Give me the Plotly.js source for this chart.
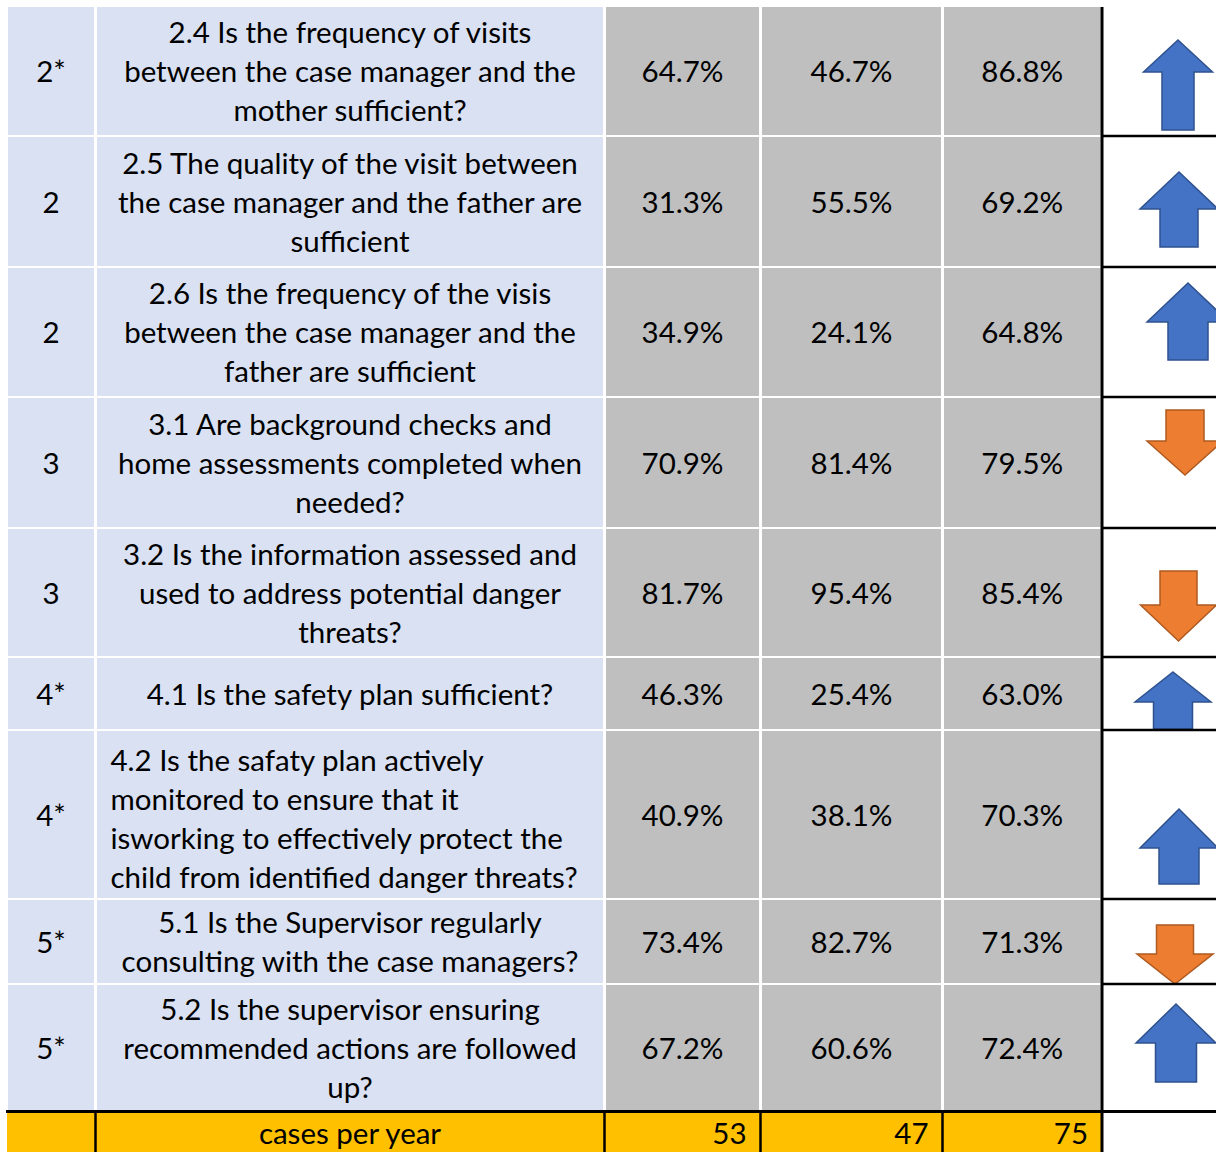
<!DOCTYPE html>
<html>
<head>
<meta charset="utf-8">
<script src="https://cdn.plot.ly/plotly-3.0.1.min.js"></script>
<style>
body{margin:0;background:#fff}
#chart{width:1216px;height:1152px}
</style>
</head>
<body>
<div id="chart"></div>
<script>
///// table data
var areas = ['2*', '2', '2', '3', '3', '4*', '4*', '5*', '5*'];
var questions = [
  ['2.4 Is the frequency of visits', 'between the case manager and the', 'mother sufficient?'],
  ['2.5 The quality of the visit between', 'the case manager and the father are', 'sufficient'],
  ['2.6 Is the frequency of the visis', 'between the case manager and the', 'father are sufficient'],
  ['3.1 Are background checks and', 'home assessments completed when', 'needed?'],
  ['3.2 Is the information assessed and', 'used to address potential danger', 'threats?'],
  ['4.1 Is the safety plan sufficient?'],
  ['4.2 Is the safaty plan actively', 'monitored to ensure that it', 'isworking to effectively protect the', 'child from identified danger threats?'],
  ['5.1 Is the Supervisor regularly', 'consulting with the case managers?'],
  ['5.2 Is the supervisor ensuring', 'recommended actions are followed', 'up?']
];
var pctYear1 = [64.7, 31.3, 34.9, 70.9, 81.7, 46.3, 40.9, 73.4, 67.2];
var pctYear2 = [46.7, 55.5, 24.1, 81.4, 95.4, 25.4, 38.1, 82.7, 60.6];
var pctYear3 = [86.8, 69.2, 64.8, 79.5, 85.4, 63.0, 70.3, 71.3, 72.4];
var casesLabel = 'cases per year';
var casesPerYear = [53, 47, 75];

///// grid layout (pixels)
var W = 1216, H = 1152;
var colEdges = [6.5, 95.5, 604.5, 760.5, 942.5, 1102];
var rowEdges = [6, 136, 267, 397, 528, 657, 730, 899, 984, 1111.5];
var lineGap = 39;
var textShift = 4;
var qAlign = ['center', 'center', 'center', 'center', 'center', 'center', 'left', 'center', 'center'];
var qShift = [0, 0, 0, 0, 0, 0, 4, 0, 0];
// arrows: centre x, start y, head y, end y, head half width, shaft half width
var arrowPos = [
  [1178, 40, 72, 130, 34.5, 16],
  [1179, 172, 209, 247, 39, 19],
  [1188, 283, 322, 360, 41, 20],
  [1185, 410, 441, 475, 38, 19],
  [1178.5, 571, 605, 641, 38, 18.5],
  [1173, 672, 702, 729, 38, 19.5],
  [1179, 809, 848, 884, 39, 20],
  [1175, 925, 954, 984, 38, 18.5],
  [1176, 1004, 1043, 1082, 40, 20.5]
];

var BLUE_CELL = '#D9E1F2', GRAY_CELL = '#BFBFBF', YELLOW = '#FFC000';
var FONT = {family: 'Lato, "Open Sans", sans-serif', size: 29.5, color: '#000'};

var shapes = [];
var traces = [];

function rect(x0, y0, x1, y1, fill){
  shapes.push({type: 'rect', xref: 'x', yref: 'y', x0: x0, y0: y0, x1: x1, y1: y1,
    fillcolor: fill, line: {width: 0}, layer: 'below'});
}
function line(x0, y0, x1, y1, w){
  shapes.push({type: 'line', xref: 'x', yref: 'y', x0: x0, y0: y0, x1: x1, y1: y1,
    line: {color: '#000', width: w}});
}
function textTrace(xs, ys, txt, pos){
  traces.push({type: 'scatter', mode: 'text', x: xs, y: ys, text: txt,
    textposition: pos, textfont: FONT, hoverinfo: 'skip', showlegend: false});
}

///// body cells
var nRows = areas.length;
for (var r = 0; r < nRows; r++){
  for (var c = 0; c < 5; c++){
    rect(colEdges[c] + 1.5, rowEdges[r] + 1, colEdges[c + 1] - 1.5, rowEdges[r + 1] - 1,
      c < 2 ? BLUE_CELL : GRAY_CELL);
  }
}

///// footer row
rect(7, rowEdges[nRows], colEdges[5], H, YELLOW);

///// text
var cx = [], cy = [];
for (var r = 0; r < nRows; r++){
  cx.push((colEdges[0] + colEdges[1]) / 2);
  cy.push((rowEdges[r] + rowEdges[r + 1]) / 2 + textShift);
}
textTrace(cx, cy, areas, 'middle center');

var qxC = [], qyC = [], qtC = [], qxL = [], qyL = [], qtL = [];
for (var r = 0; r < nRows; r++){
  var mid = cy[r] + qShift[r];
  var n = questions[r].length;
  for (var i = 0; i < n; i++){
    var y = mid + (i - (n - 1) / 2) * lineGap;
    if (qAlign[r] == 'left'){
      qxL.push(colEdges[1] + 15); qyL.push(y); qtL.push(questions[r][i]);
    } else {
      qxC.push((colEdges[1] + colEdges[2]) / 2); qyC.push(y); qtC.push(questions[r][i]);
    }
  }
}
textTrace(qxC, qyC, qtC, 'middle center');
textTrace(qxL, qyL, qtL, 'middle right');

var series = [pctYear1, pctYear2, pctYear3];
for (var s = 0; s < 3; s++){
  var xs = [], txt = [];
  for (var r = 0; r < nRows; r++){
    xs.push((colEdges[s + 2] + colEdges[s + 3]) / 2);
    txt.push(series[s][r].toFixed(1) + '%');
  }
  textTrace(xs, cy, txt, 'middle center');
}

var footY = 1137;
textTrace([(colEdges[1] + colEdges[2]) / 2], [footY], [casesLabel], 'middle center');
var fx = [], fy = [];
for (var s = 0; s < 3; s++){
  fx.push(colEdges[s + 3] - 14);
  fy.push(footY);
}
textTrace(fx, fy, casesPerYear.map(String), 'middle left');

///// trend arrows (latest year vs previous year)
for (var r = 0; r < nRows; r++){
  var a = arrowPos[r];
  var x = a[0], h = a[4], sw = a[5];
  var up = pctYear3[r] >= pctYear2[r];
  var p = 'M' + x + ',' + a[1] +
    ' L' + (x + h) + ',' + a[2] + ' L' + (x + sw) + ',' + a[2] +
    ' L' + (x + sw) + ',' + a[3] + ' L' + (x - sw) + ',' + a[3] +
    ' L' + (x - sw) + ',' + a[2] + ' L' + (x - h) + ',' + a[2] + ' Z';
  if (!up){
    p = 'M' + (x - sw) + ',' + a[1] + ' L' + (x + sw) + ',' + a[1] +
      ' L' + (x + sw) + ',' + a[2] + ' L' + (x + h) + ',' + a[2] +
      ' L' + x + ',' + a[3] + ' L' + (x - h) + ',' + a[2] +
      ' L' + (x - sw) + ',' + a[2] + ' Z';
  }
  shapes.push({type: 'path', xref: 'x', yref: 'y', path: p,
    fillcolor: up ? '#4472C4' : '#ED7D31',
    line: {color: up ? '#2F528F' : '#AE5A21', width: 1.5}});
}

///// black rules
line(colEdges[5], 7, colEdges[5], H, 3);
line(6, rowEdges[nRows], W, rowEdges[nRows], 3);
for (var r = 1; r < nRows; r++){
  line(colEdges[5], rowEdges[r], W, rowEdges[r], 2.5);
}
for (var c = 1; c < 5; c++){
  line(colEdges[c], rowEdges[nRows], colEdges[c], H, 2.5);
}

var layout = {
  width: W, height: H,
  margin: {l: 0, r: 0, t: 0, b: 0},
  paper_bgcolor: '#fff', plot_bgcolor: '#fff',
  xaxis: {range: [0, W], visible: false, fixedrange: true},
  yaxis: {range: [H, 0], visible: false, fixedrange: true},
  shapes: shapes,
  showlegend: false
};

Plotly.newPlot('chart', traces, layout, {staticPlot: true});
</script>
</body>
</html>
